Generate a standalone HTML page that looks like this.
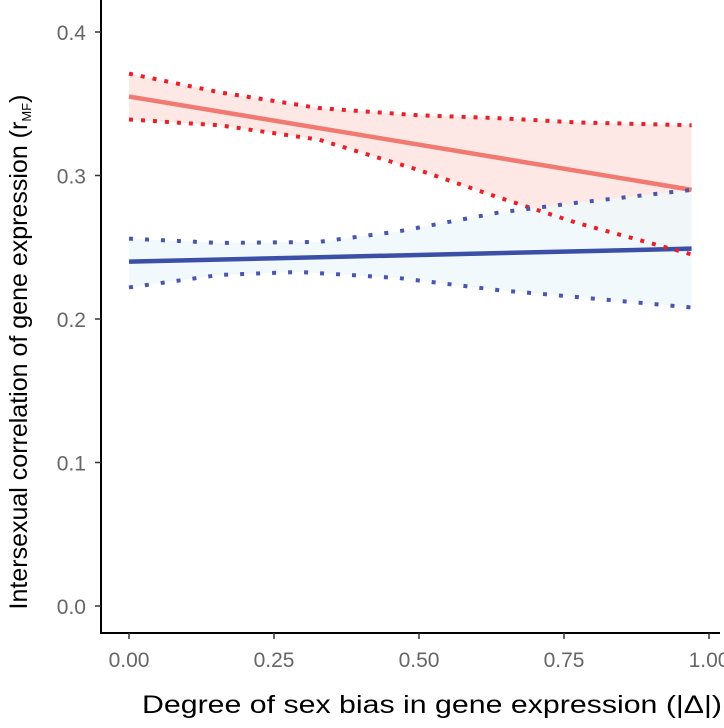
<!DOCTYPE html>
<html><head><meta charset="utf-8"><style>
body{margin:0;background:#fff;}
svg{display:block;font-family:"Liberation Sans",sans-serif;}
</style></head><body>
<svg id="chart" width="724" height="728"></svg>
<script>
const xTicks=[0,0.25,0.5,0.75,1.0];
const xTickLabels=["0.00","0.25","0.50","0.75","1.00"];
const yTicks=[0,0.1,0.2,0.3,0.4];
const yTickLabels=["0.0","0.1","0.2","0.3","0.4"];
const redLineX=[0,0.97];
const redLineY=[0.355,0.29];
const blueLineX=[0,0.97];
const blueLineY=[0.24,0.249];
const redUpX=[0,0.156,0.327,0.498,0.635,0.772,0.97];
const redUpY=[0.371,0.358,0.347,0.342,0.340,0.337,0.335];
const redLoX=[0,0.156,0.327,0.498,0.635,0.772,0.97];
const redLoY=[0.339,0.335,0.325,0.304,0.285,0.267,0.245];
const blueUpX=[0,0.156,0.327,0.464,0.635,0.772,0.97];
const blueUpY=[0.256,0.253,0.2537,0.261,0.274,0.281,0.29];
const blueLoX=[0,0.156,0.293,0.464,0.635,0.772,0.97];
const blueLoY=[0.222,0.2307,0.2328,0.2286,0.2202,0.2153,0.208];

const NS="http://www.w3.org/2000/svg";
const svg=document.getElementById('chart');
const xs=v=>129+v*580;
const ys=v=>606-v*1435;
function mk(t,a,p){const e=document.createElementNS(NS,t);for(const k in a)e.setAttribute(k,a[k]);(p||svg).appendChild(e);return e;}
function pts(X,Y){return X.map((x,i)=>xs(x)+','+ys(Y[i])).join(' ');}
function band(X1,Y1,X2,Y2){return pts(X1,Y1)+' '+X2.map((x,i)=>xs(x)+','+ys(Y2[i])).reverse().join(' ');}

let e;
e=mk('polygon',{points:band(redUpX,redUpY,redLoX,redLoY),fill:'#fde8e6'});


e=mk('polygon',{points:band(blueUpX,blueUpY,blueLoX,blueLoY),fill:'#eef8fb','fill-opacity':0.85});


e=mk('polyline',{points:pts(redLineX,redLineY),fill:'none',stroke:'#f07a72','stroke-width':4.5});


e=mk('polyline',{points:pts(blueLineX,blueLineY),fill:'none',stroke:'#3a4fa5','stroke-width':4.5});


e=mk('polyline',{points:pts(redUpX,redUpY),fill:'none',stroke:'#e8202a','stroke-width':4,'stroke-dasharray':'4 8'});


e=mk('polyline',{points:pts(redLoX,redLoY),fill:'none',stroke:'#e8202a','stroke-width':4,'stroke-dasharray':'4 8'});


e=mk('polyline',{points:pts(blueUpX,blueUpY),fill:'none',stroke:'#4a56ac','stroke-width':4,'stroke-dasharray':'4 12'});


e=mk('polyline',{points:pts(blueLoX,blueLoY),fill:'none',stroke:'#4a56ac','stroke-width':4,'stroke-dasharray':'4 12'});



e=mk('line',{x1:101,y1:0,x2:101,y2:634,stroke:'#000','stroke-width':2});


e=mk('line',{x1:100,y1:633,x2:720,y2:633,stroke:'#000','stroke-width':2});



yTicks.forEach((v,i)=>{
  e=mk('line',{x1:95,x2:101,y1:ys(v),y2:ys(v),stroke:'#333','stroke-width':1.5});
  
  
  e=mk('text',{x:86,y:ys(v)+8,'text-anchor':'end','font-size':21,fill:'#666'});
  e.textContent=yTickLabels[i];
  
  
});
xTicks.forEach((v,i)=>{
  e=mk('line',{x1:xs(v),x2:xs(v),y1:633,y2:639,stroke:'#333','stroke-width':1.5});
  
  
  e=mk('text',{x:xs(v),y:667,'text-anchor':'middle','font-size':21,fill:'#666'});
  e.textContent=xTickLabels[i];
  
  
});
e=mk('text',{x:142,y:713,'font-size':25,fill:'#000',textLength:580,lengthAdjust:'spacingAndGlyphs'});
e.textContent='Degree of sex bias in gene expression (|Δ|)';


e=mk('text',{transform:'translate(27,352) rotate(-90)','text-anchor':'middle','font-size':25,fill:'#000'});
e.innerHTML='Intersexual correlation of gene expression (r<tspan font-size="13" dy="4">MF</tspan><tspan dy="-4">)</tspan>';


</script>
</body></html>
